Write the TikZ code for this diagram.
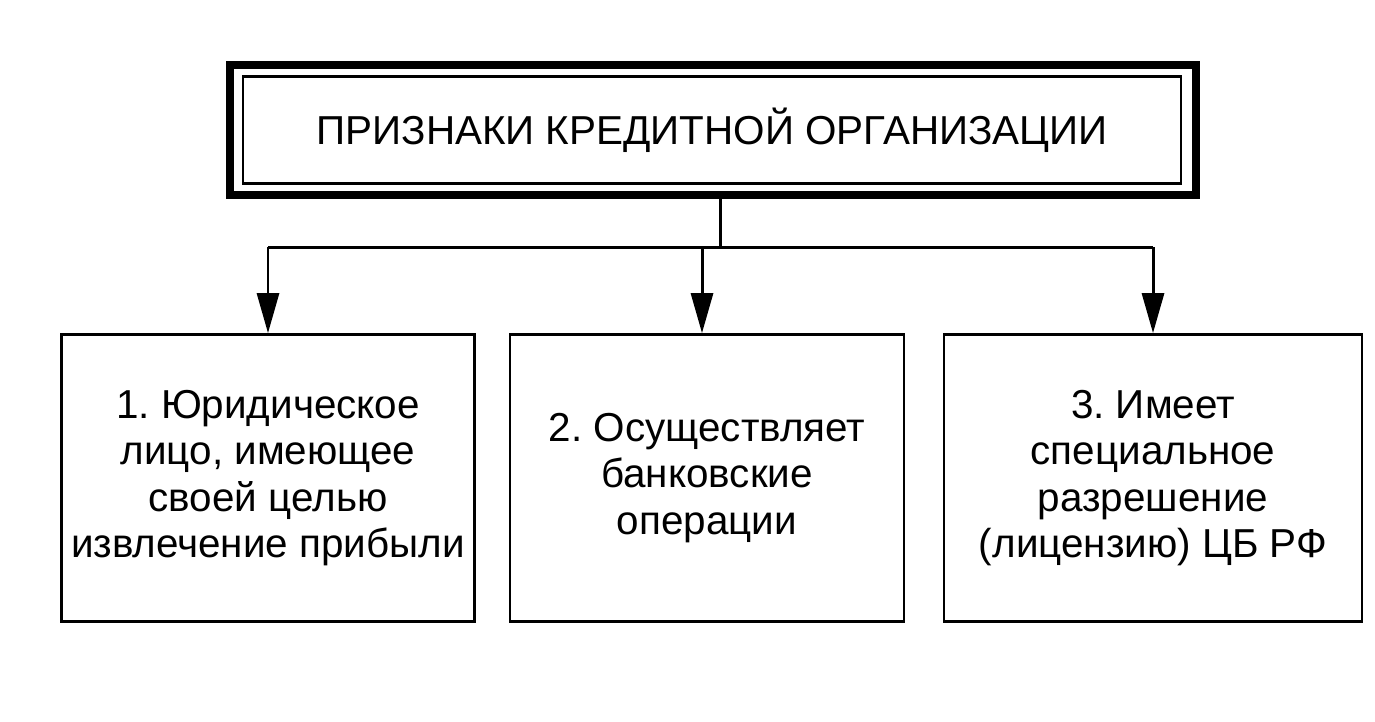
\documentclass[tikz,border=0pt]{standalone}
\usepackage{fontspec}
\setmainfont{Liberation Sans}
\frenchspacing
\usetikzlibrary{arrows.meta}
\tikzset{
  sign/.style={draw=black, line width=1.6pt, minimum width=8cm, minimum height=5.74cm,
    align=center, font=\fontsize{23}{26.5}\selectfont},
  arr/.style={-{Triangle[length=0.8cm,width=0.44cm]}, line width=1.7pt}
}
\begin{document}
\begin{tikzpicture}[x=0.02cm, y=-0.02cm]
\useasboundingbox (0,0) rectangle (1375,721);
% top box, thick frame and thin frame inside
\node[draw=black, line width=4.2pt, minimum width=19.32cm, minimum height=2.6cm] (frame) at (713,130) {};
\node[draw=black, line width=1.3pt, minimum width=18.76cm, minimum height=2.14cm,
  font=\fontsize{23}{26.5}\selectfont] (title) at (712,130) {ПРИЗНАКИ КРЕДИТНОЙ ОРГАНИЗАЦИИ};
% the three signs
\node[sign, minimum width=8.26cm] (s1) at (268,478) {1. Юридическое\\лицо, имеющее\\своей целью\\извлечение прибыли};
\node[sign, minimum width=7.88cm] (s2) at (707,478) {2. Осуществляет\\банковские\\операции};
\node[sign, minimum width=8.36cm] (s3) at (1153,478) {3. Имеет\\специальное\\разрешение\\(лицензию) ЦБ РФ};
% connectors
\coordinate (bus) at (720,247);
\draw[line width=1.7pt] (frame.south -| bus) -- (bus);
\draw[line width=1.7pt] (s1.north |- bus) -- (s3.north |- bus);
\draw[arr] (s1.north |- bus) -- (s1.north);
\draw[arr] (702,247) -- (s2.north -| 702,0);
\draw[arr] (s3.north |- bus) -- (s3.north);
\end{tikzpicture}
\end{document}
